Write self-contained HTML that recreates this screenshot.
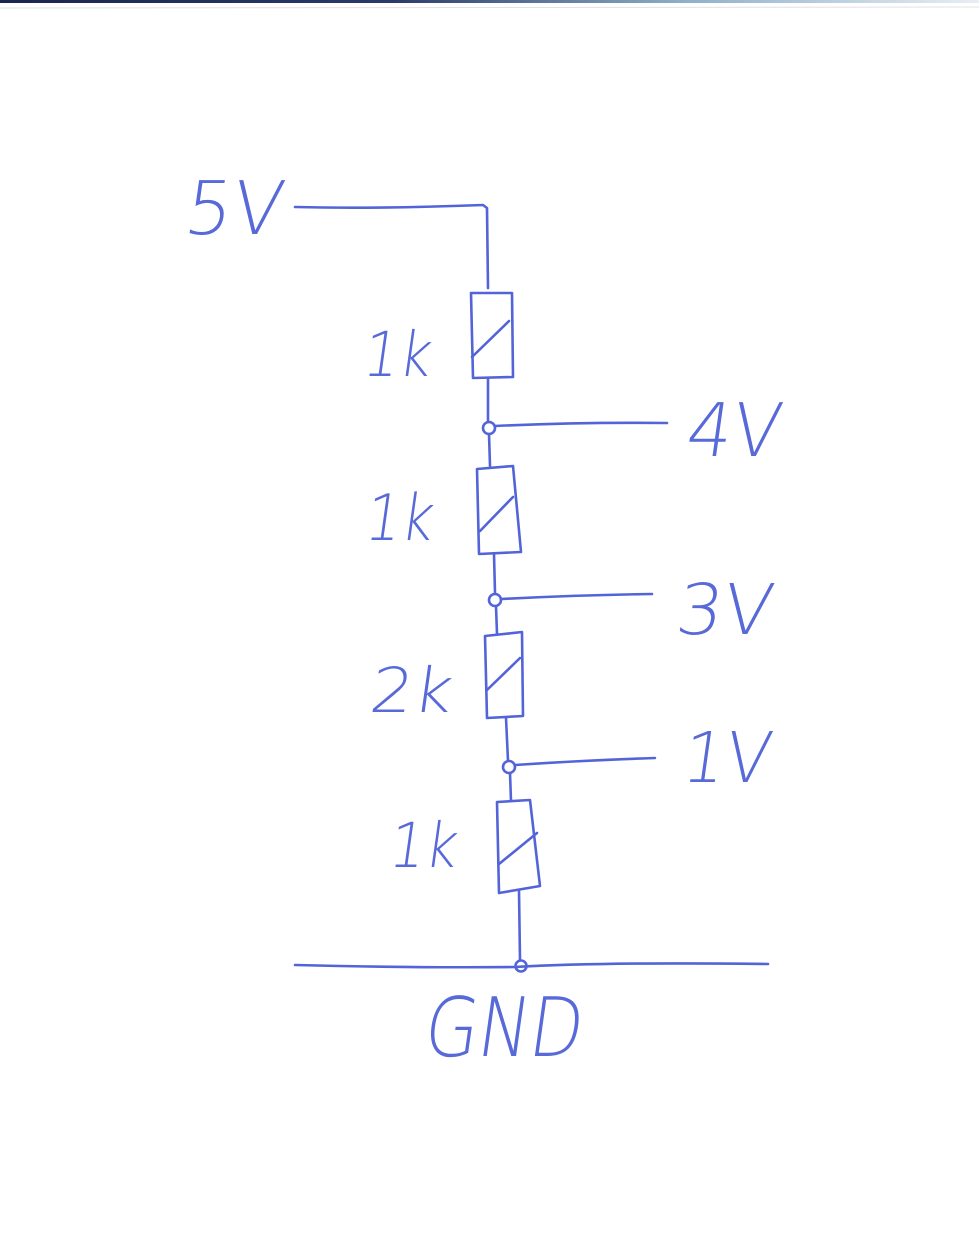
<!DOCTYPE html>
<html><head><meta charset="utf-8"><style>
html,body{margin:0;padding:0;background:#fff;}
body{width:979px;height:1240px;overflow:hidden;position:relative;}
svg{position:absolute;left:0;top:0;}
text{font-family:"DejaVu Sans","Liberation Sans",sans-serif;font-weight:200;fill:#5869d8;}
</style></head><body>
<svg width="979" height="1240" viewBox="0 0 979 1240" xmlns="http://www.w3.org/2000/svg">
<defs>
<linearGradient id="tb" x1="0" x2="1" y1="0" y2="0">
<stop offset="0" stop-color="#1b2550"/><stop offset="0.4" stop-color="#2a3a6a"/><stop offset="0.7" stop-color="#8fb0c8"/><stop offset="1" stop-color="#e8eef4"/>
</linearGradient>
</defs>
<rect x="0" y="0" width="979" height="3" fill="url(#tb)"/>
<line x1="0" y1="8" x2="979" y2="7" stroke="#dde3ea" stroke-width="1"/>
<g fill="none" stroke="#5264d8" stroke-width="2.6" stroke-linecap="round" stroke-linejoin="round">
<path d="M295,207 Q380,209 483,205 L487,208 L488,288"/>
<path d="M471,293 L512,293 L513,377 L473,378 Z"/>
<path d="M472,357 L509,321"/>
<path d="M488,378 L488,422"/>
<circle cx="489" cy="428" r="6"/>
<path d="M495,426 Q580,422 667,423"/>
<path d="M489,434 L490,466"/>
<path d="M477,469 L513,466 L521,552 L479,554 Z"/>
<path d="M480,531 L513,497"/>
<path d="M494,554 L495,593"/>
<circle cx="495" cy="600" r="6"/>
<path d="M501,599 Q580,595 652,594"/>
<path d="M496,606 L497,634"/>
<path d="M485,636 L522,632 L523,716 L487,718 Z"/>
<path d="M487,690 L520,658"/>
<path d="M506,718 L508,761"/>
<circle cx="509" cy="767" r="6"/>
<path d="M515,765 Q590,760 655,758"/>
<path d="M510,773 L511,801"/>
<path d="M497,802 L530,800 L540,886 L499,893 Z"/>
<path d="M499,864 L537,833"/>
<path d="M519,891 L520,960"/>
<path d="M295,965 Q420,968 515,967 Q600,962 768,964"/>
<circle cx="521" cy="966" r="5.5"/>
</g>
<g>
<text x="183" y="234" font-size="74" textLength="98" lengthAdjust="spacingAndGlyphs" transform="skewX(-8) translate(32,0)">5V</text>
<text x="686" y="456" font-size="74" textLength="94" lengthAdjust="spacingAndGlyphs" transform="skewX(-8) translate(62,0)">4V</text>
<text x="675" y="634" font-size="70" textLength="96" lengthAdjust="spacingAndGlyphs" transform="skewX(-8) translate(88,0)">3V</text>
<text x="682" y="782" font-size="70" textLength="88" lengthAdjust="spacingAndGlyphs" transform="skewX(-8) translate(108,0)">1V</text>
<text x="362" y="376" font-size="62" textLength="68" lengthAdjust="spacingAndGlyphs" transform="skewX(-8) translate(52,0)">1k</text>
<text x="364" y="540" font-size="64" textLength="68" lengthAdjust="spacingAndGlyphs" transform="skewX(-8) translate(75,0)">1k</text>
<text x="368" y="712" font-size="62" textLength="82" lengthAdjust="spacingAndGlyphs" transform="skewX(-8) translate(100,0)">2k</text>
<text x="388" y="867" font-size="62" textLength="68" lengthAdjust="spacingAndGlyphs" transform="skewX(-8) translate(121,0)">1k</text>
<text x="423" y="1056" font-size="82" textLength="158" lengthAdjust="spacingAndGlyphs" transform="skewX(-8) translate(147,0)">GND</text>
</g>
</svg>
</body></html>
